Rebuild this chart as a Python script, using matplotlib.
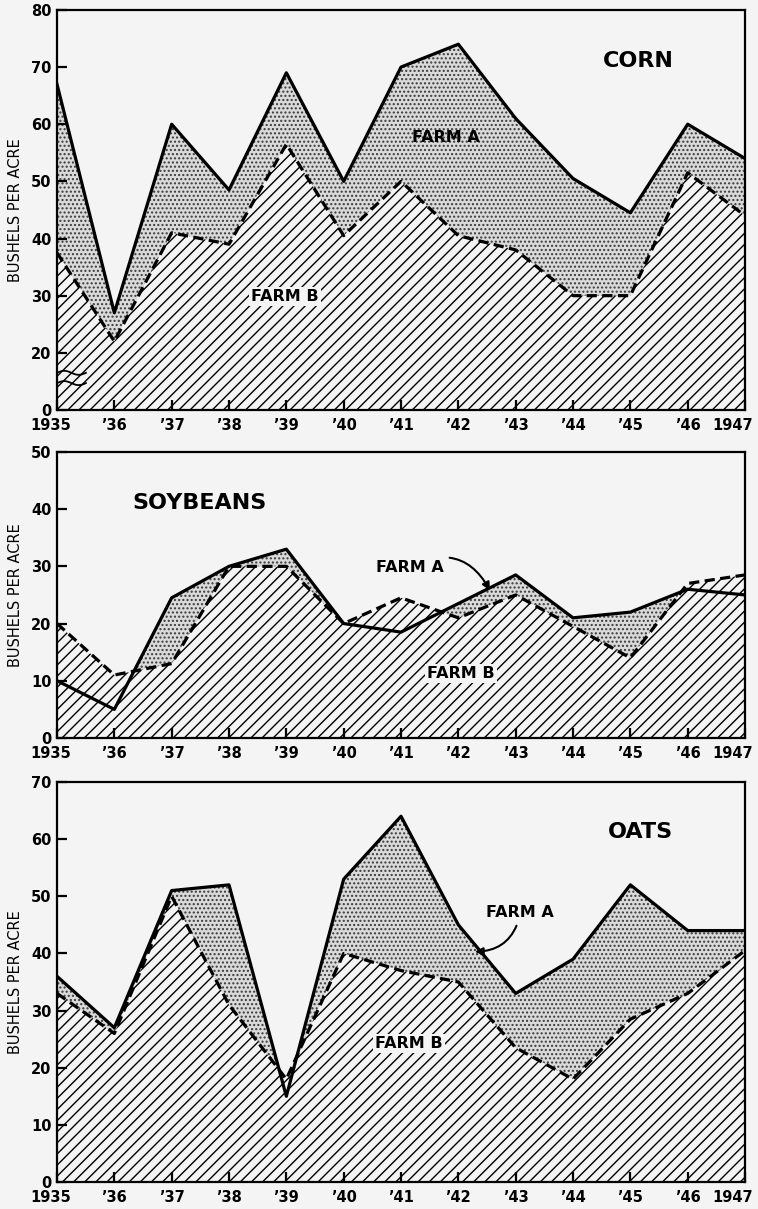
import numpy as np
import matplotlib
matplotlib.use("Agg")
import matplotlib.pyplot as plt
from matplotlib.transforms import ScaledTranslation

years = list(range(1935, 1948))
year_labels = ["1935", "’36", "’37", "’38", "’39", "’40", "’41",
               "’42", "’43", "’44", "’45", "’46", "1947"]

corn_a = [67, 27, 60, 48.5, 69, 50, 70, 74, 61, 50.5, 44.5, 60, 54]
corn_b = [37.5, 22, 41, 39, 56.5, 40.5, 50, 40.5, 38, 30, 30, 51.5, 44]

soy_a = [10, 5, 24.5, 30, 33, 20, 18.5, 23.5, 28.5, 21, 22, 26, 25]
soy_b = [20, 11, 13, 30, 30, 20, 24.5, 21, 25, 19.5, 14, 27, 28.5]

oats_a = [36, 27, 51, 52, 15, 53, 64, 45, 33, 39, 52, 44, 44]
oats_b = [33, 26, 50, 31, 18, 40, 37, 35, 23.5, 18, 28.5, 33, 40.5]

BG = "#f4f4f4"
plt.rcParams["hatch.linewidth"] = 1.0
plt.rcParams["font.family"] = "DejaVu Sans"

fig = plt.figure(figsize=(7.58, 12.09), dpi=100, facecolor=BG)
ax1 = fig.add_axes([0.0752, 0.6609, 0.9077, 0.3309])
ax2 = fig.add_axes([0.0752, 0.3896, 0.9077, 0.2366])
ax3 = fig.add_axes([0.0752, 0.0223, 0.9077, 0.3309])


def fwd(y):
    y = np.asarray(y, dtype=float)
    return np.where(y >= 20, y, 20 - (20 - y) * 0.5)


def inv(f):
    f = np.asarray(f, dtype=float)
    return np.where(f >= 20, f, 20 - (20 - f) / 0.5)


def draw(ax, a, b, ymax, yticks):
    ax.set_facecolor(BG)
    ax.set_axisbelow(False)
    ax.fill_between(years, 0, a, facecolor="#dadada", edgecolor="#3a3a3a",
                    hatch="....", linewidth=0, zorder=1)
    ax.fill_between(years, 0, b, facecolor=BG, edgecolor="black",
                    hatch="///", linewidth=0, zorder=2)
    ax.plot(years, b, color="black", lw=2.3, dashes=(3.2, 1.7), zorder=3)
    ax.plot(years, a, color="black", lw=2.3, zorder=4)
    ax.set_xlim(1935, 1947)
    ax.set_ylim(0, ymax)
    ax.set_yticks(yticks)
    ax.set_xticks(years)
    ax.set_xticklabels(year_labels)
    ax.tick_params(axis="both", direction="in", length=7, width=1.6,
                   labelsize=10.5, colors="black")
    ax.tick_params(axis="x", pad=6)
    ax.tick_params(axis="y", pad=4)
    for lab in ax.get_xticklabels() + ax.get_yticklabels():
        lab.set_fontweight("bold")
    for sp in ax.spines.values():
        sp.set_linewidth(1.6)
        sp.set_zorder(6)
    ax.set_ylabel("BUSHELS PER ACRE", fontsize=10.5, labelpad=6)
    labs = ax.get_xticklabels()
    labs[0].set_transform(labs[0].get_transform()
                          + ScaledTranslation(-0.06, 0, fig.dpi_scale_trans))
    labs[-1].set_transform(labs[-1].get_transform()
                           + ScaledTranslation(-0.12, 0, fig.dpi_scale_trans))


box = dict(facecolor=BG, edgecolor="none", pad=1.5)
lab_kw = dict(fontsize=11.5, fontweight="bold", ha="center", va="center", zorder=5)

# corn (broken axis below 20)
ax1.set_yscale("function", functions=(fwd, inv))
draw(ax1, corn_a, corn_b, 80, [0, 20, 30, 40, 50, 60, 70, 80])
tr = ax1.get_yaxis_transform()
wx = np.linspace(0, 0.042, 40)
for yb in (13.0, 9.4):
    ax1.plot(wx, yb + 0.7 * np.sin(wx / 0.042 * 2 * np.pi), color="black",
             lw=1.3, transform=tr, zorder=7, clip_on=False)
ax1.text(1945.13, 71, "CORN", fontsize=16, fontweight="bold", ha="center", va="center")
ax1.text(1941.79, 57.7, "FARM A", **lab_kw)
ax1.text(1938.98, 29.8, "FARM B", bbox=box, **lab_kw)

# soybeans
draw(ax2, soy_a, soy_b, 50, [0, 10, 20, 30, 40, 50])
ax2.text(1937.49, 41, "SOYBEANS", fontsize=16, fontweight="bold", ha="center", va="center")
ax2.annotate("FARM A", xy=(1942.55, 25.8), xytext=(1941.16, 29.8),
             arrowprops=dict(arrowstyle="-|>", color="black", lw=1.5,
                             connectionstyle="arc3,rad=-0.5", shrinkA=2, shrinkB=0),
             **lab_kw)
ax2.text(1942.05, 11.3, "FARM B", bbox=box, **lab_kw)

# oats
draw(ax3, oats_a, oats_b, 70, [0, 10, 20, 30, 40, 50, 60, 70])
ax3.text(1945.17, 61.3, "OATS", fontsize=16, fontweight="bold", ha="center", va="center")
ax3.annotate("FARM A", xy=(1942.29, 40.3), xytext=(1943.08, 47.1),
             arrowprops=dict(arrowstyle="-|>", color="black", lw=1.5,
                             connectionstyle="arc3,rad=-0.4", shrinkA=2, shrinkB=0),
             **lab_kw)
ax3.text(1941.14, 24.3, "FARM B", bbox=box, **lab_kw)

fig.savefig("out.png", dpi=100, facecolor=BG)
